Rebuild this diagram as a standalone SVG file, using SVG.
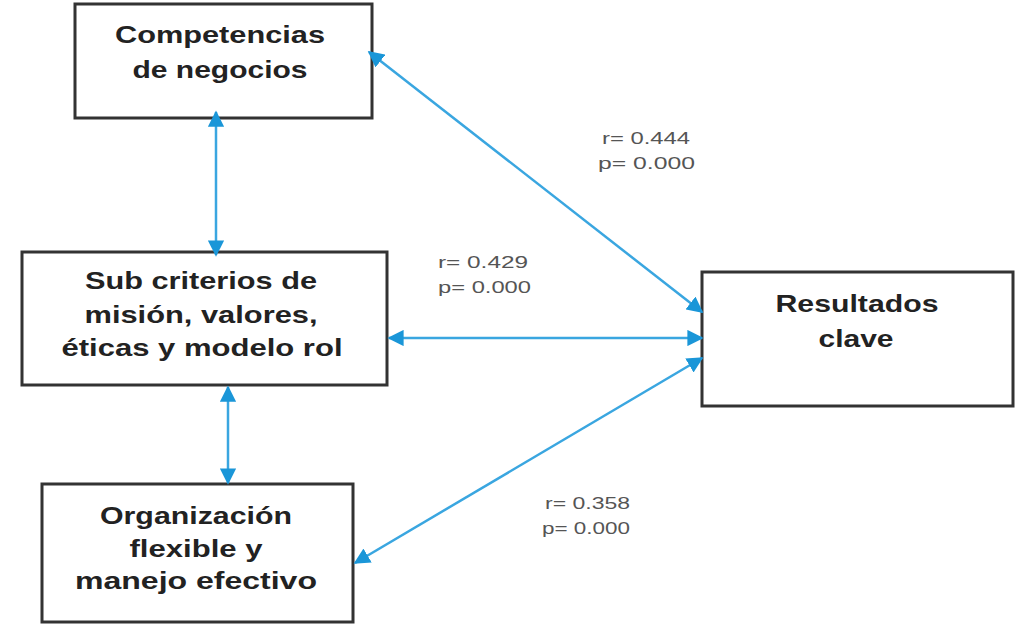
<svg xmlns="http://www.w3.org/2000/svg" width="1019" height="627" viewBox="0 0 1019 627">
<style>
.box{fill:#fff;stroke:#333;stroke-width:3}
.t{font-family:"Liberation Sans",Arial,sans-serif;font-weight:bold;font-size:24px;fill:#222;text-anchor:middle}
.l{font-family:"Liberation Sans",Arial,sans-serif;font-size:16px;fill:#555}
.c{stroke:#3aa6e0;stroke-width:2.5;fill:none;marker-start:url(#ah);marker-end:url(#ah)}
</style>
<defs>
<marker id="ah" viewBox="0 0 10 10" refX="9" refY="5" markerWidth="6.5" markerHeight="6.5" orient="auto-start-reverse" markerUnits="strokeWidth">
<path d="M0,0 L10,5 L0,10 z" fill="#1a96d8"/>
</marker>
</defs>
<rect width="1019" height="627" fill="#fff"/>
<g id="node-competencias">
<rect class="box" x="75" y="4" width="297" height="114"/>
<text class="t" x="220" y="43" textLength="210" lengthAdjust="spacingAndGlyphs">Competencias</text>
<text class="t" x="220" y="78" textLength="175" lengthAdjust="spacingAndGlyphs">de negocios</text>
</g>
<g id="node-subcriterios">
<rect class="box" x="22" y="252" width="365" height="133"/>
<text class="t" x="201" y="289" textLength="232" lengthAdjust="spacingAndGlyphs">Sub criterios de</text>
<text class="t" x="201" y="323" textLength="233" lengthAdjust="spacingAndGlyphs">misión, valores,</text>
<text class="t" x="202" y="356" textLength="281" lengthAdjust="spacingAndGlyphs">éticas y modelo rol</text>
</g>
<g id="node-organizacion">
<rect class="box" x="42" y="484" width="311" height="138"/>
<text class="t" x="196" y="524" textLength="192" lengthAdjust="spacingAndGlyphs">Organización</text>
<text class="t" x="196" y="557" textLength="133" lengthAdjust="spacingAndGlyphs">flexible y</text>
<text class="t" x="196" y="589" textLength="242" lengthAdjust="spacingAndGlyphs">manejo efectivo</text>
</g>
<g id="node-resultados">
<rect class="box" x="702" y="272" width="311" height="134"/>
<text class="t" x="857" y="312" textLength="163" lengthAdjust="spacingAndGlyphs">Resultados</text>
<text class="t" x="856" y="347" textLength="75" lengthAdjust="spacingAndGlyphs">clave</text>
</g>
<g id="connectors">
<line class="c" x1="216" y1="112" x2="216" y2="255"/>
<line class="c" x1="228" y1="387" x2="228" y2="483"/>
<line class="c" x1="389" y1="338" x2="702" y2="338"/>
<line class="c" x1="369" y1="52" x2="702" y2="312"/>
<line class="c" x1="355" y1="563" x2="702" y2="358"/>
</g>
<g id="labels">
<text class="l" x="602" y="144" textLength="88" lengthAdjust="spacingAndGlyphs">r= 0.444</text>
<text class="l" x="598" y="169" textLength="97" lengthAdjust="spacingAndGlyphs">p= 0.000</text>
<text class="l" x="438" y="268" textLength="90" lengthAdjust="spacingAndGlyphs">r= 0.429</text>
<text class="l" x="438" y="293" textLength="93" lengthAdjust="spacingAndGlyphs">p= 0.000</text>
<text class="l" x="545" y="509" textLength="85" lengthAdjust="spacingAndGlyphs">r= 0.358</text>
<text class="l" x="542" y="534" textLength="88" lengthAdjust="spacingAndGlyphs">p= 0.000</text>
</g>
</svg>
